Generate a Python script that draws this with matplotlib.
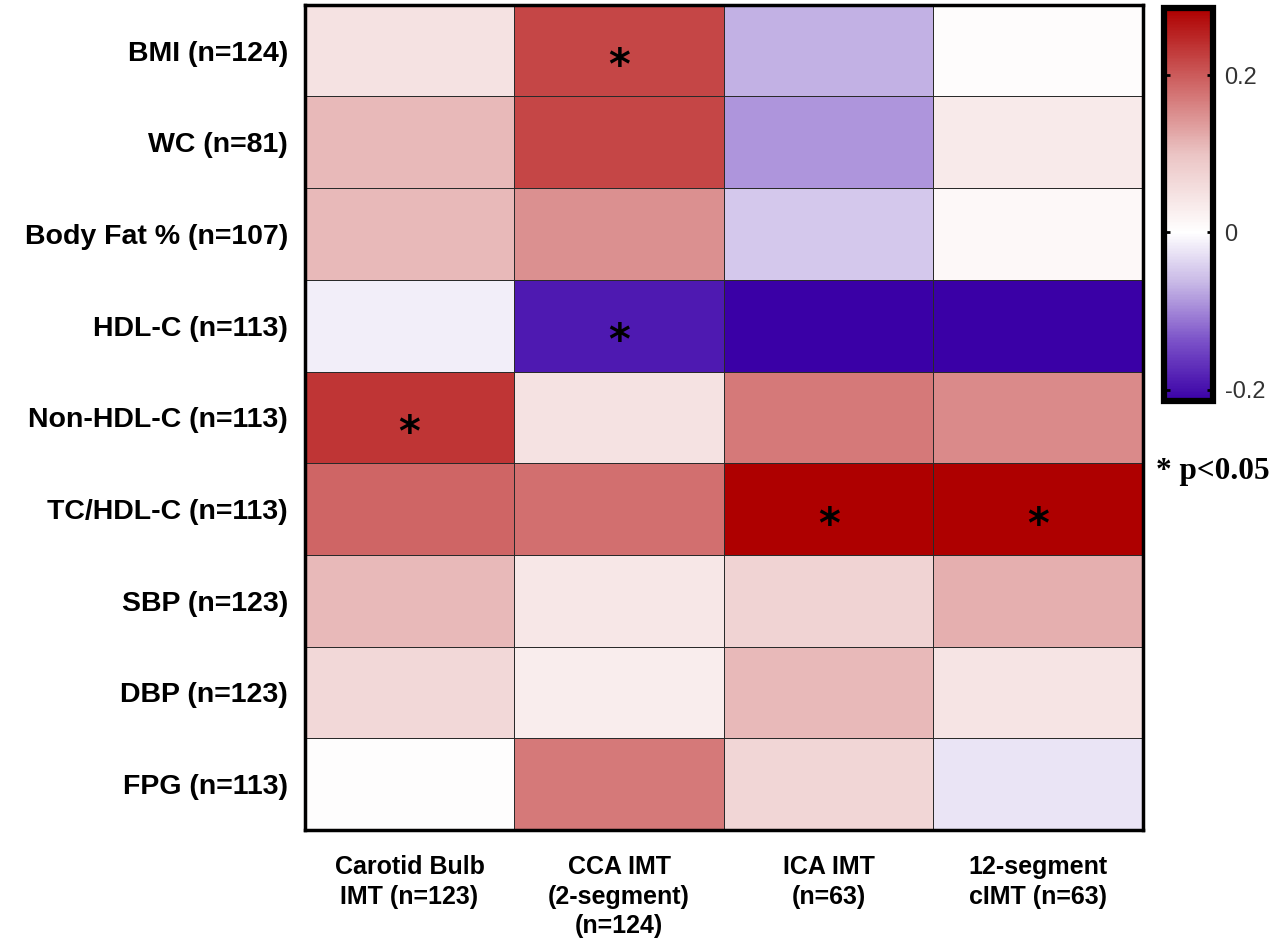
import numpy as np
import matplotlib
matplotlib.use('Agg')
import matplotlib.pyplot as plt
from matplotlib.colors import LinearSegmentedColormap, Normalize

# Row / column labels
rows = ['BMI (n=124)', 'WC (n=81)', 'Body Fat % (n=107)', 'HDL-C (n=113)',
        'Non-HDL-C (n=113)', 'TC/HDL-C (n=113)', 'SBP (n=123)', 'DBP (n=123)',
        'FPG (n=113)']
cols = ['Carotid Bulb\nIMT (n=123)', 'CCA IMT\n(2-segment)\n(n=124)',
        'ICA IMT\n(n=63)', '12-segment\ncIMT (n=63)']

# correlation coefficients
carotid_bulb = [0.05, 0.11, 0.11, -0.015, 0.235, 0.19, 0.11, 0.065, 0.003]
cca_imt = [0.22, 0.22, 0.15, -0.19, 0.05, 0.18, 0.04, 0.03, 0.17]
ica_imt = [-0.07, -0.09, -0.05, -0.215, 0.17, 0.285, 0.075, 0.11, 0.07]
cimt_12 = [0.005, 0.035, 0.012, -0.215, 0.155, 0.285, 0.12, 0.045, -0.025]

# significant cells (row, col) p<0.05
sig_cells = [(0, 1), (3, 1), (4, 0), (5, 2), (5, 3)]

data = np.array([carotid_bulb, cca_imt, ica_imt, cimt_12]).T

vmin, vmax = -0.215, 0.285
zero_pos = -vmin / (vmax - vmin)
cmap = LinearSegmentedColormap.from_list('rwp', [
    (0.0, '#3a00a6'),
    (zero_pos * 0.35, '#7a50c8'),
    (zero_pos * 0.7, '#c8b8e6'),
    (zero_pos, '#ffffff'),
    (zero_pos + (1 - zero_pos) * 0.35, '#ebc4c4'),
    (zero_pos + (1 - zero_pos) * 0.7, '#cc5c5c'),
    (1.0, '#ae0000'),
])
norm = Normalize(vmin=vmin, vmax=vmax)

fig = plt.figure(figsize=(12.8, 9.4), dpi=100)
ax = fig.add_axes([0.238, 0.117, 0.655, 0.878])
cax = fig.add_axes([0.909, 0.573, 0.039, 0.418])

mesh = ax.pcolormesh(data, cmap=cmap, norm=norm, edgecolors='#2a2a2a', linewidth=0.6)
ax.set_xlim(0, len(cols))
ax.set_ylim(len(rows), 0)

for r, c in sig_cells:
    ax.text(c + 0.5, r + 0.68, '*', ha='center', va='center', fontsize=30,
            fontweight='bold', color='black', family='DejaVu Sans')

ax.set_yticks(np.arange(len(rows)) + 0.5)
ax.set_yticklabels(rows, fontsize=20.5, fontweight='bold', family='Liberation Sans')
ax.set_xticks(np.arange(len(cols)) + 0.5)
ax.set_xticklabels(cols, fontsize=18, fontweight='bold', family='Liberation Sans',
                   linespacing=1.3, va='top')
ax.tick_params(length=0, pad=12)
ax.tick_params(axis='x', pad=18)
for s in ax.spines.values():
    s.set_linewidth(2.5)
    s.set_color('black')

cb = fig.colorbar(mesh, cax=cax, ticks=[-0.2, 0, 0.2])
cb.ax.set_yticklabels(['-0.2', '0', '0.2'], fontsize=17, color='#333333',
                      family='Liberation Sans')
cb.ax.tick_params(length=4, width=2, direction='in', color='black', pad=8,
                  left=True, right=True)
cb.outline.set_linewidth(4.5)
cb.outline.set_color('black')

fig.text(0.903, 0.498, '* p<0.05', fontsize=22.5, fontweight='bold',
         family='Liberation Serif', ha='left', va='center')

fig.savefig('out.png', dpi=100)
